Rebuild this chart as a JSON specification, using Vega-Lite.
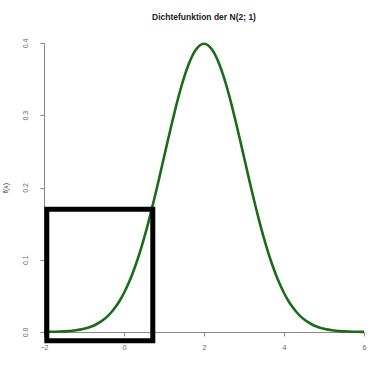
{
  "$schema": "https://vega.github.io/schema/vega-lite/v6.json",
  "width": 320,
  "height": 289,
  "autosize": {"type": "none"},
  "padding": {"left": 44, "top": 43, "right": 27, "bottom": 36},
  "background": "white",
  "title": {"text": "Dichtefunktion der N(2; 1)", "fontSize": 8.5, "font": "Liberation Sans", "fontWeight": "bold", "color": "#222222", "anchor": "middle", "offset": 17},
  "config": {"view": {"stroke": null}},
  "datasets": {
    "curve": [
      {"x": -2.0, "y": 0.000134}, {"x": -1.9, "y": 0.000199}, {"x": -1.8, "y": 0.000292}, {"x": -1.7, "y": 0.000425}, {"x": -1.6, "y": 0.000612},
      {"x": -1.5, "y": 0.000873}, {"x": -1.4, "y": 0.001232}, {"x": -1.3, "y": 0.001723}, {"x": -1.2, "y": 0.002384}, {"x": -1.1, "y": 0.003267},
      {"x": -1.0, "y": 0.004432}, {"x": -0.9, "y": 0.005953}, {"x": -0.8, "y": 0.007915}, {"x": -0.7, "y": 0.010421}, {"x": -0.6, "y": 0.013583},
      {"x": -0.5, "y": 0.017528}, {"x": -0.4, "y": 0.022395}, {"x": -0.3, "y": 0.028327}, {"x": -0.2, "y": 0.035475}, {"x": -0.1, "y": 0.043984},
      {"x": 0.0, "y": 0.053991}, {"x": 0.1, "y": 0.065616}, {"x": 0.2, "y": 0.07895}, {"x": 0.3, "y": 0.094049}, {"x": 0.4, "y": 0.110921},
      {"x": 0.5, "y": 0.129518}, {"x": 0.6, "y": 0.149727}, {"x": 0.7, "y": 0.171369}, {"x": 0.8, "y": 0.194186}, {"x": 0.9, "y": 0.217852},
      {"x": 1.0, "y": 0.241971}, {"x": 1.1, "y": 0.266085}, {"x": 1.2, "y": 0.289692}, {"x": 1.3, "y": 0.312254}, {"x": 1.4, "y": 0.333225},
      {"x": 1.5, "y": 0.352065}, {"x": 1.6, "y": 0.36827}, {"x": 1.7, "y": 0.381388}, {"x": 1.8, "y": 0.391043}, {"x": 1.9, "y": 0.396953},
      {"x": 2.0, "y": 0.398942},
      {"x": 2.1, "y": 0.396953}, {"x": 2.2, "y": 0.391043}, {"x": 2.3, "y": 0.381388}, {"x": 2.4, "y": 0.36827}, {"x": 2.5, "y": 0.352065},
      {"x": 2.6, "y": 0.333225}, {"x": 2.7, "y": 0.312254}, {"x": 2.8, "y": 0.289692}, {"x": 2.9, "y": 0.266085}, {"x": 3.0, "y": 0.241971},
      {"x": 3.1, "y": 0.217852}, {"x": 3.2, "y": 0.194186}, {"x": 3.3, "y": 0.171369}, {"x": 3.4, "y": 0.149727}, {"x": 3.5, "y": 0.129518},
      {"x": 3.6, "y": 0.110921}, {"x": 3.7, "y": 0.094049}, {"x": 3.8, "y": 0.07895}, {"x": 3.9, "y": 0.065616}, {"x": 4.0, "y": 0.053991},
      {"x": 4.1, "y": 0.043984}, {"x": 4.2, "y": 0.035475}, {"x": 4.3, "y": 0.028327}, {"x": 4.4, "y": 0.022395}, {"x": 4.5, "y": 0.017528},
      {"x": 4.6, "y": 0.013583}, {"x": 4.7, "y": 0.010421}, {"x": 4.8, "y": 0.007915}, {"x": 4.9, "y": 0.005953}, {"x": 5.0, "y": 0.004432},
      {"x": 5.1, "y": 0.003267}, {"x": 5.2, "y": 0.002384}, {"x": 5.3, "y": 0.001723}, {"x": 5.4, "y": 0.001232}, {"x": 5.5, "y": 0.000873},
      {"x": 5.6, "y": 0.000612}, {"x": 5.7, "y": 0.000425}, {"x": 5.8, "y": 0.000292}, {"x": 5.9, "y": 0.000199}, {"x": 6.0, "y": 0.000134}
    ],
    "box": [
      {"x1": -1.93, "x2": 0.72, "y1": -0.012, "y2": 0.17}
    ]
  },
  "layer": [
    {
      "data": {"name": "curve"},
      "mark": {"type": "line", "color": "#1b6b1b", "strokeWidth": 2.6, "interpolate": "monotone"},
      "encoding": {
        "x": {"field": "x", "type": "quantitative", "scale": {"domain": [-2, 6], "nice": false, "zero": false},
          "axis": {"values": [-2, 0, 2, 4, 6], "title": null, "grid": false, "domainColor": "#888888", "tickColor": "#888888", "tickSize": 4,
            "labelColor": "#666666", "labelFontSize": 7, "labelFont": "Liberation Sans", "labelPadding": 7, "labelFlush": false, "labelOverlap": false}},
        "y": {"field": "y", "type": "quantitative", "scale": {"domain": [0, 0.4], "nice": false},
          "axis": {"values": [0, 0.1, 0.2, 0.3, 0.4], "format": ".1f", "title": "f(x)", "titleFontSize": 7, "titleFont": "Liberation Sans", "titleFontWeight": "normal", "titleColor": "#333333", "titlePadding": 13,
            "grid": false, "domainColor": "#888888", "tickColor": "#888888", "tickSize": 4,
            "labelColor": "#666666", "labelFontSize": 7, "labelFont": "Liberation Sans", "labelAngle": -90, "labelAlign": "center", "labelBaseline": "bottom", "labelPadding": 12, "labelFlush": false, "labelOverlap": false}}
      }
    },
    {
      "data": {"name": "box"},
      "mark": {"type": "rect", "fill": null, "fillOpacity": 0, "stroke": "black", "strokeWidth": 5, "clip": false},
      "encoding": {
        "x": {"field": "x1", "type": "quantitative"},
        "x2": {"field": "x2"},
        "y": {"field": "y1", "type": "quantitative"},
        "y2": {"field": "y2"}
      }
    }
  ]
}
